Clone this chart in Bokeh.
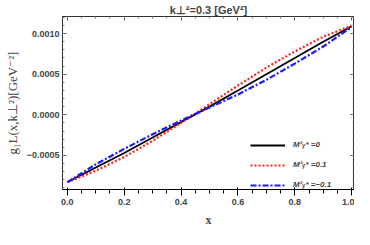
from bokeh.plotting import figure
from bokeh.models import (Range1d, LinearAxis, CustomJSTickFormatter, Legend, LegendItem,
                          FixedTicker)
from bokeh.embed import file_html
from bokeh.resources import INLINE

# ---- data ----
x_vals = [0.0, 0.1, 0.2, 0.3, 0.4, 0.5, 0.6, 0.7, 0.8, 0.9, 1.0]
g_m0 = [-0.00083, -0.00065, -0.00047, -0.00028, -0.00009, 0.00010, 0.00030, 0.00050, 0.00070, 0.00090, 0.00109]
g_mp = [-0.00083, -0.00069, -0.00052, -0.00032, -0.00010, 0.00013, 0.00036, 0.00058, 0.00078, 0.00096, 0.00110]
g_mm = [-0.00083, -0.00061, -0.00042, -0.00024, -0.00007, 0.00009, 0.00025, 0.00043, 0.00063, 0.00084, 0.00108]
series_labels = ["M\u00b2\u1d67* =0", "M\u00b2\u1d67* =0.1", "M\u00b2\u1d67* =\u22120.1"]
x_ticks = [0.0, 0.2, 0.4, 0.6, 0.8, 1.0]
y_ticks = [-0.0005, 0.0, 0.0005, 0.0010]
title_text = "k\u22a5\u00b2=0.3 [GeV\u00b2]"
x_label = "x"
y_label = "g\u2081L(x,k\u22a5\u00b2)[GeV\u207b\u00b2]"

p = figure(width=354, height=229, output_backend="svg", toolbar_location=None,
           x_range=Range1d(-0.017, 1.01), y_range=Range1d(-0.00092, 0.00121),
           min_border_left=62, min_border_right=0, min_border_top=4, min_border_bottom=20,
           x_axis_label=x_label, y_axis_label=y_label)

p.title.text = title_text
p.title.align = "center"
p.title.text_font = "Liberation Sans"
p.title.text_font_size = "11px"
p.title.text_font_style = "bold"
p.title.standoff = 2

p.grid.visible = False
p.outline_line_color = "#333333"
p.outline_line_width = 1

fmt_y = CustomJSTickFormatter(code="return (tick < -1e-12 ? '\\u2212' : '') + Math.abs(tick).toFixed(4);")
fmt_x = CustomJSTickFormatter(code="return Math.abs(tick).toFixed(1);")
fmt_none = CustomJSTickFormatter(code="return '';")

for ax, ticks, fmt in ((p.xaxis[0], x_ticks, fmt_x), (p.yaxis[0], y_ticks, fmt_y)):
    ax.formatter = fmt
    ax.major_label_text_font = "Liberation Sans"
    ax.major_label_text_font_style = "bold"
    ax.major_label_text_font_size = "9px"
    ax.major_label_standoff = 3

p.xaxis[0].ticker = FixedTicker(ticks=x_ticks, minor_ticks=[i * 0.05 for i in range(0, 21)])
p.yaxis[0].ticker = FixedTicker(ticks=y_ticks, minor_ticks=[i * 0.0001 for i in range(-9, 13)])

p.xaxis.axis_label_text_font = "Liberation Serif"
p.xaxis.axis_label_text_font_style = "bold"
p.xaxis.axis_label_text_font_size = "12px"
p.xaxis.axis_label_standoff = 5
p.yaxis.axis_label_text_font = "Liberation Serif"
p.yaxis.axis_label_text_font_style = "normal"
p.yaxis.axis_label_text_font_size = "13px"
p.yaxis.axis_label_standoff = 4

# frame-style ticks on all four sides
extra_top = LinearAxis(ticker=FixedTicker(ticks=x_ticks, minor_ticks=[i * 0.05 for i in range(0, 21)]),
                       formatter=fmt_none)
extra_right = LinearAxis(ticker=FixedTicker(ticks=y_ticks, minor_ticks=[i * 0.0001 for i in range(-9, 13)]),
                         formatter=fmt_none)
p.add_layout(extra_top, "above")
p.add_layout(extra_right, "right")

for ax in (p.xaxis[0], p.yaxis[0], extra_top, extra_right):
    ax.axis_line_color = "#333333"
    ax.major_tick_in = 4
    ax.major_tick_out = 0
    ax.minor_tick_in = 2
    ax.minor_tick_out = 0
    ax.major_tick_line_color = "#555555"
    ax.minor_tick_line_color = "#777777"
for ax in (extra_top, extra_right):
    ax.major_label_standoff = 0
    ax.major_label_text_font_size = "1px"

r0 = p.line(x_vals, g_m0, line_color="black", line_width=1.8)
r1 = p.line(x_vals, g_mp, line_color="#ff2020", line_width=2.2, line_dash="2 2")
r2 = p.line(x_vals, g_mm, line_color="#1a1aff", line_width=2.2, line_dash="6 2 2 2")

legend = Legend(items=[LegendItem(label=series_labels[0], renderers=[r0]),
                       LegendItem(label=series_labels[1], renderers=[r1]),
                       LegendItem(label=series_labels[2], renderers=[r2])],
                location=(188, 0), orientation="vertical",
                background_fill_alpha=0, border_line_alpha=0,
                glyph_width=35, glyph_height=8, label_height=8, spacing=11,
                padding=0, margin=0, label_standoff=8,
                label_text_font="Liberation Sans", label_text_font_style="bold italic",
                label_text_font_size="8px")
p.add_layout(legend, "center")

open("out.html", "w").write(file_html(p, INLINE))
